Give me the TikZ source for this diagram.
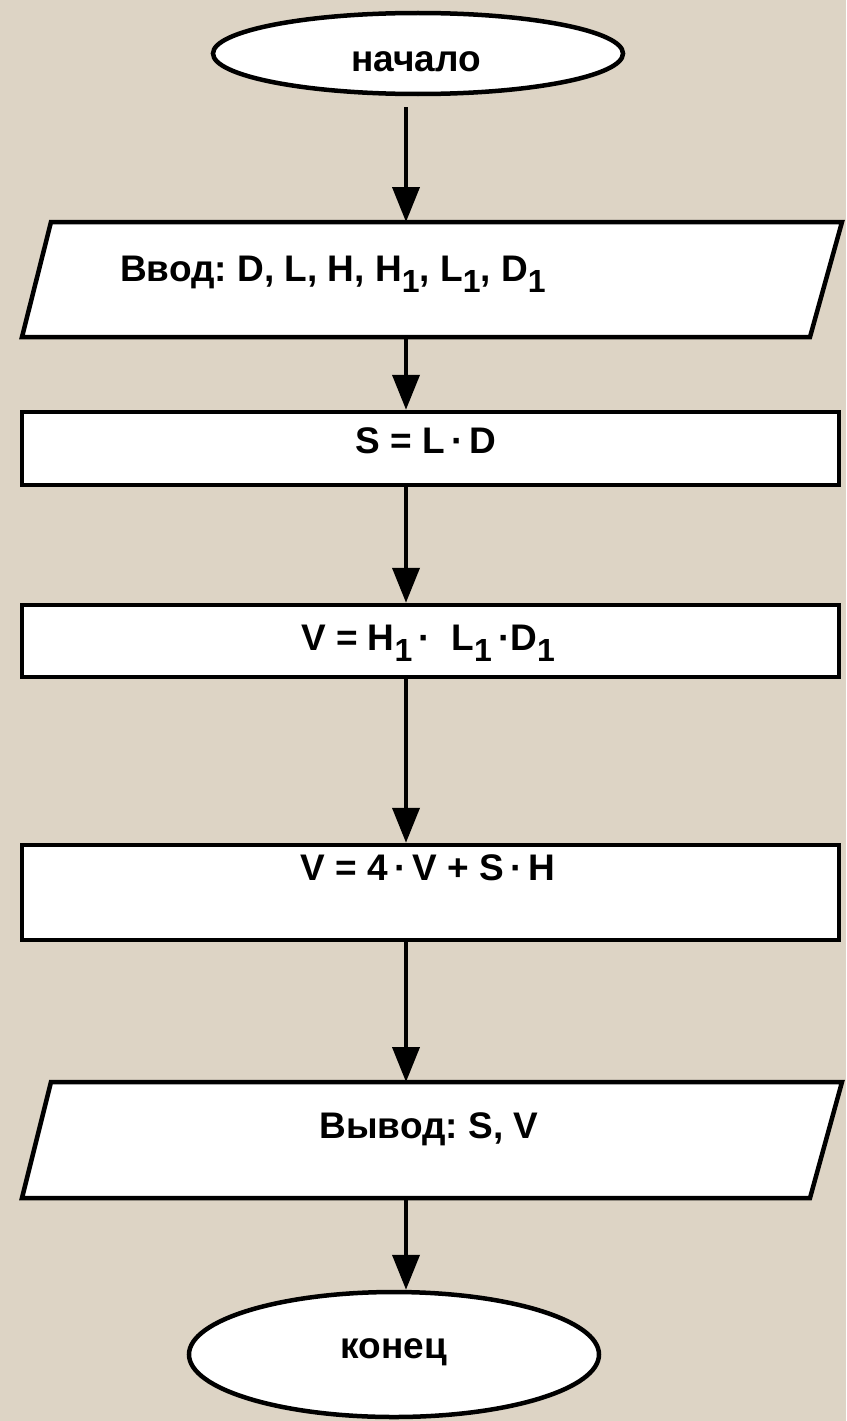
\documentclass[tikz,border=0pt]{standalone}
\usepackage{fontspec}
\setmainfont{Liberation Sans}
\usetikzlibrary{arrows.meta,shapes.geometric}
\definecolor{bg}{RGB}{221,212,197}
\newcommand\sbs[1]{\raisebox{-0.32em}{\fontsize{32}{32}\selectfont #1}}
\frenchspacing
\begin{document}
\begin{tikzpicture}[x=1pt,y=-1pt,
  term/.style={ellipse, draw=black, line width=4.5pt, fill=white, inner sep=0pt},
  box/.style={rectangle, draw=black, line width=4.5pt, fill=white, inner sep=0pt},
  frame/.style={rectangle, draw=none, inner sep=0pt, outer sep=0pt},
  ioline/.style={draw=black, line width=4.5pt, fill=white, line join=miter},
  lbl/.style={font=\bfseries\fontsize{37}{44}\selectfont, inner sep=0pt, anchor=base},
  arr/.style={line width=4pt, -{Triangle[length=35pt,width=27pt]}}]
\fill[bg] (0,0) rectangle (846,1421);
\useasboundingbox (0,0) rectangle (846,1421);
\coordinate (ax) at (406,0);
% shapes
\node[term, minimum width=410pt, minimum height=81pt] (start) at (418,53.5) {};
\node[frame, minimum width=820pt, minimum height=115pt] (in) at (432,279.5) {};
\draw[ioline] ([xshift=29pt]in.north west) -- (in.north east) -- ([xshift=-32pt]in.south east) -- (in.south west) -- cycle;
\node[box, minimum width=817pt, minimum height=73pt] (r1) at (430.5,448.5) {};
\node[box, minimum width=817pt, minimum height=72pt] (r2) at (430.5,641) {};
\node[box, minimum width=817pt, minimum height=95pt] (r3) at (430.5,892.5) {};
\node[frame, minimum width=820pt, minimum height=116pt] (out) at (432,1140) {};
\draw[ioline] ([xshift=29pt]out.north west) -- (out.north east) -- ([xshift=-32pt]out.south east) -- (out.south west) -- cycle;
\node[term, minimum width=410pt, minimum height=125pt] (stop) at (394,1354.5) {};
% connectors
\draw[arr, shorten <=11pt] (start.south -| ax) -- (in.north -| ax);
\draw[arr] (in.south -| ax) -- (r1.north -| ax);
\draw[arr] (r1.south -| ax) -- (r2.north -| ax);
\draw[arr] (r2.south -| ax) -- (r3.north -| ax);
\draw[arr] (r3.south -| ax) -- (out.north -| ax);
\draw[arr] (out.south -| ax) -- (stop.north -| ax);
% texts
\node[lbl] (t0) at (416,71) {начало};
\node[lbl, anchor=base west] (t1) at (120,281) {Ввод: D, L, H, H\sbs{1}, L\sbs{1}, D\sbs{1}};
\node[lbl] (t2) at (426,453) {S = L\,·\,D};
\node[lbl] (t3) at (428,650) {V = H\sbs{1}\,·\; L\sbs{1}\,·D\sbs{1}};
\node[lbl] (t4) at (428,880) {V = 4\,·\,V + S\,·\,H};
\node[lbl] (t5) at (429,1138) {Вывод: S, V};
\node[lbl] (t6) at (394,1358) {конец};
\end{tikzpicture}
\end{document}
